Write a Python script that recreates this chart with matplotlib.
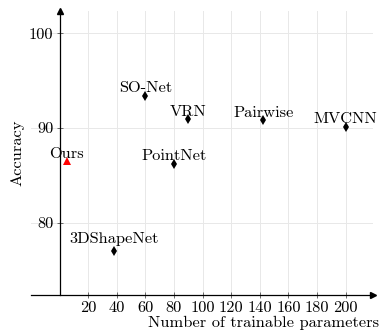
import matplotlib
matplotlib.use("Agg")
import matplotlib.pyplot as plt

plt.rcParams["font.family"] = "cmr10"
plt.rcParams["axes.unicode_minus"] = False
plt.rcParams["mathtext.fontset"] = "cm"

# 参数量(M) 与 准确率(%)
models = ["SO-Net", "VRN", "PointNet", "Pairwise", "MVCNN", "3DShapeNet"]
params = [60, 90, 80, 142.5, 200, 38]
accuracy = [93.4, 90.9, 86.2, 90.8, 90.1, 77.0]

ours_name = "Ours"
ours_params = 5
ours_acc = 86.55

x_ticks = [20, 40, 60, 80, 100, 120, 140, 160, 180, 200]
y_ticks = [80, 90, 100]

fs = 11.8

fig = plt.figure(figsize=(3.82, 3.31), dpi=100)
ax = fig.add_axes([0.0809, 0.1097, 0.8948, 0.8583])
ax.set_xlim(-20, 219)
ax.set_ylim(72.4, 102.4)

# 网格
ax.set_xticks(x_ticks)
ax.set_yticks(y_ticks)
ax.grid(True, color="#e8e8e8", lw=0.7)
ax.set_axisbelow(True)

# 坐标轴放在中间 (y轴在 x=0)
for s in ["top", "right"]:
    ax.spines[s].set_visible(False)
ax.spines["left"].set_position(("data", 0))
ax.spines["left"].set_linewidth(0.9)
ax.spines["bottom"].set_linewidth(0.9)
ax.plot(1, 0, ">", color="black", ms=4, transform=ax.transAxes, clip_on=False)
ax.plot(0, 1, "^", color="black", ms=4, transform=ax.get_xaxis_transform(), clip_on=False)

ax.tick_params(direction="inout", length=4, width=0.6, color="#555555",
               labelsize=fs, pad=2.5)
ax.set_xticklabels([str(t) for t in x_ticks])
ax.set_yticklabels([str(t) for t in y_ticks])


def label_offset(name):
    # 有下行字母的标签抬高一些
    return 2.6 + (3.0 if any(c in name for c in "gjpqy") else 0)


ax.plot(params, accuracy, "d", color="black", ms=5, markeredgewidth=0, zorder=3)
for name, x, y in zip(models, params, accuracy):
    ax.annotate(name, (x, y), xytext=(0, label_offset(name)), textcoords="offset points",
                ha="center", va="baseline", fontsize=fs, zorder=4)

ax.plot([ours_params], [ours_acc], "^", color="red", ms=5.5, markeredgewidth=0, zorder=3)
ax.annotate(ours_name, (ours_params, ours_acc), xytext=(0, 2), textcoords="offset points",
            ha="center", va="baseline", fontsize=fs, zorder=4)

fig.text(379 / 382, 1 - 323 / 331, "Number of trainable parameters", ha="right",
         va="center", fontsize=fs)
fig.text(17 / 382, 1 - 152.6 / 331, "Accuracy", rotation=90, ha="center",
         va="center", fontsize=fs)

fig.savefig("out.png", dpi=100)
